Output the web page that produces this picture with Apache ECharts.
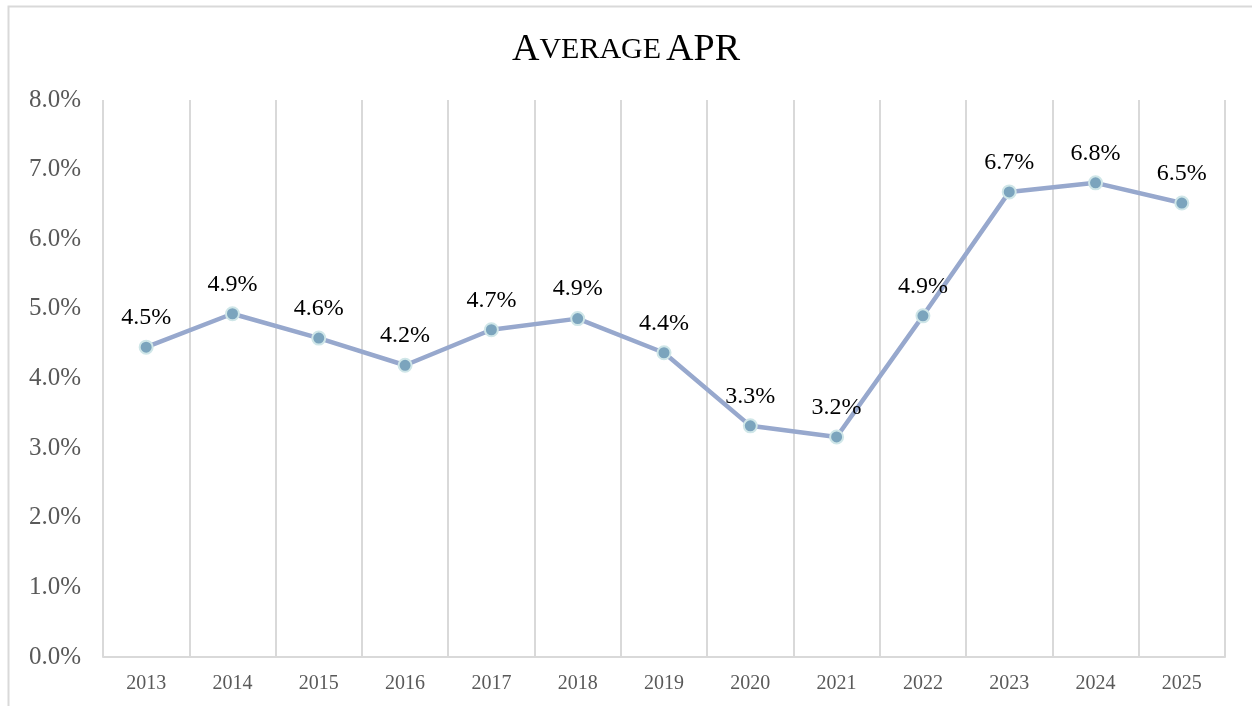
<!DOCTYPE html>
<html>
<head>
<meta charset="utf-8">
<script src="https://cdn.jsdelivr.net/npm/echarts@6/dist/echarts.min.js"></script>
<style>
html,body{margin:0;padding:0;background:#fff;}
#main{width:1252px;height:706px;}
</style>
</head>
<body>
<div id="main"></div>
<script>
const categories = ['2013','2014','2015','2016','2017','2018','2019','2020','2021','2022','2023','2024','2025'];
const apr = [4.45, 4.93, 4.58, 4.19, 4.70, 4.86, 4.37, 3.32, 3.16, 4.90, 6.68, 6.81, 6.52];
const labels = ['4.5%','4.9%','4.6%','4.2%','4.7%','4.9%','4.4%','3.3%','3.2%','4.9%','6.7%','6.8%','6.5%'];
const yTicks = { min: 0, max: 8, interval: 1 };

const FONT = '"Liberation Serif", "Times New Roman", serif';
const chart = echarts.init(document.getElementById('main'), null, {renderer: 'canvas'});
chart.setOption({
  backgroundColor: '#ffffff',
  animation: false,
  graphic: [{
    type: 'rect', left: 6, top: 4, z: -10,
    shape: {width: 1270, height: 730},
    style: {fill: 'none', stroke: '#d9d9d9', lineWidth: 2}
  }],
  title: {
    text: '{a|A}{b|VERAGE} {a|APR}',
    left: 'center',
    top: 26,
    textStyle: {
      fontWeight: 'normal',
      rich: {
        a: {fontFamily: FONT, fontSize: 38, fontWeight: 'normal', color: '#000'},
        b: {fontFamily: FONT, fontSize: 30, fontWeight: 'normal', color: '#000'}
      }
    }
  },
  grid: {left: 103, right: 27, top: 100, bottom: 49, containLabel: false},
  xAxis: {
    type: 'category',
    data: categories,
    boundaryGap: true,
    axisLine: {show: true, lineStyle: {color: '#d9d9d9', width: 2}},
    axisTick: {show: false},
    splitLine: {show: true, lineStyle: {color: '#d9d9d9', width: 2}},
    axisLabel: {fontFamily: FONT, fontSize: 20, color: '#595959', margin: 17}
  },
  yAxis: {
    type: 'value',
    min: yTicks.min, max: yTicks.max, interval: yTicks.interval,
    axisLine: {show: false},
    axisTick: {show: false},
    splitLine: {show: false},
    axisLabel: {
      fontFamily: FONT, fontSize: 25, color: '#595959', margin: 22,
      formatter: v => v.toFixed(1) + '%'
    }
  },
  series: [{
    type: 'line',
    data: apr,
    symbol: 'circle',
    symbolSize: 13,
    lineStyle: {color: '#97a8cd', width: 4.5},
    itemStyle: {color: '#7ba4bd', borderColor: '#cfe6e8', borderWidth: 2},
    label: {
      show: true, position: 'top', distance: 10,
      fontFamily: FONT, fontSize: 24, color: '#000',
      formatter: p => labels[p.dataIndex]
    },
    z: 5
  }]
});
</script>
</body>
</html>
